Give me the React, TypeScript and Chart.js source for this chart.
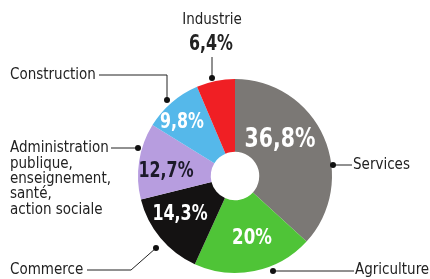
import React, { useEffect, useRef } from "react";
import { Chart, registerables } from "chart.js";

Chart.register(...registerables);

const categories = [
  "Services",
  "Agriculture",
  "Commerce",
  "Administration publique, enseignement, santé, action sociale",
  "Construction",
  "Industrie",
];
const shares = [36.8, 20, 14.3, 12.7, 9.8, 6.4];
const shareLabels = ["36,8%", "20%", "14,3%", "12,7%", "9,8%", "6,4%"];
const colors = ["#7b7875", "#4fc437", "#141212", "#b79ddf", "#55b8ea", "#f01f24"];

const FONT = '"Liberation Sans Narrow", "DejaVu Sans Condensed", "Liberation Sans", sans-serif';

const labelPlugin = {
  id: "labels",
  afterDraw(chart: any) {
    const ctx = chart.ctx as CanvasRenderingContext2D;
    ctx.save();
    const dot = (x: number, y: number) => {
      ctx.fillStyle = "#111";
      ctx.beginPath();
      ctx.arc(x, y, 3, 0, Math.PI * 2);
      ctx.fill();
    };
    const line = (pts: number[][]) => {
      ctx.strokeStyle = "#222";
      ctx.lineWidth = 1;
      ctx.beginPath();
      ctx.moveTo(pts[0][0], pts[0][1]);
      for (let i = 1; i < pts.length; i++) ctx.lineTo(pts[i][0], pts[i][1]);
      ctx.stroke();
    };
    const text = (s: string, x: number, y: number, size: number, bold: boolean, color: string, align: CanvasTextAlign) => {
      ctx.save();
      ctx.font = `${bold ? "bold " : ""}${size}px ${FONT}`;
      ctx.fillStyle = color;
      ctx.textAlign = align;
      ctx.textBaseline = "middle";
      const sx = bold ? 0.84 : 1;
      ctx.translate(x, y);
      ctx.scale(sx, 1);
      ctx.fillText(s, 0, 0);
      ctx.restore();
    };

    // inside percentage labels
    text(shareLabels[0], 280, 140, 27, true, "#ffffff", "center");
    text(shareLabels[1], 252, 238, 22, true, "#ffffff", "center");
    text(shareLabels[2], 180, 215, 21, true, "#ffffff", "center");
    text(shareLabels[3], 166, 172, 21, true, "#1c1a2a", "center");
    text(shareLabels[4], 182, 123, 21, true, "#ffffff", "center");

    // Industrie
    text(categories[5], 212, 20, 15, false, "#222", "center");
    text(shareLabels[5], 211, 45, 21, true, "#222", "center");
    line([[212, 57], [212, 78]]);
    dot(212, 78);

    // Services
    line([[333, 165], [352, 165]]);
    dot(333, 165);
    text(categories[0], 353, 165, 15, false, "#222", "left");

    // Agriculture
    line([[273, 271], [354, 271]]);
    dot(273, 271);
    text(categories[1], 355, 270, 15, false, "#222", "left");

    // Construction
    text(categories[4], 10, 75, 15, false, "#222", "left");
    line([[99, 75], [167, 75], [167, 100]]);
    dot(167, 100);

    // Administration
    const adm = ["Administration", "publique,", "enseignement,", "santé,", "action sociale"];
    const admY = [148, 164, 179, 194, 210];
    adm.forEach((s, i) => text(s, 10, admY[i], 15, false, "#222", "left"));
    line([[111, 148], [138, 148]]);
    dot(138, 148);

    // Commerce
    text(categories[2], 10, 270, 15, false, "#222", "left");
    line([[87, 270], [131, 270], [156, 248]]);
    dot(156, 248);

    ctx.restore();
  },
};

export default function App() {
  const ref = useRef<HTMLCanvasElement | null>(null);
  useEffect(() => {
    if (!ref.current) return;
    const chart = new Chart(ref.current, {
      type: "doughnut",
      data: {
        labels: categories,
        datasets: [
          {
            data: shares,
            backgroundColor: colors,
            borderWidth: 0,
            hoverOffset: 0,
            offset: 0,
          },
        ],
      },
      options: {
        responsive: false,
        animation: false,
        cutout: "25%",
        rotation: 0,
        layout: { padding: { left: 138, right: 98, top: 79, bottom: 6 } },
        plugins: { legend: { display: false }, tooltip: { enabled: false } },
        events: [],
      },
      plugins: [labelPlugin],
    });
    return () => chart.destroy();
  }, []);
  return (
    <div style={{ position: "fixed", left: 0, top: 0, width: 430, height: 279, background: "#fff" }}>
      <canvas ref={ref} width={430} height={279} style={{ width: 430, height: 279 }} />
    </div>
  );
}
